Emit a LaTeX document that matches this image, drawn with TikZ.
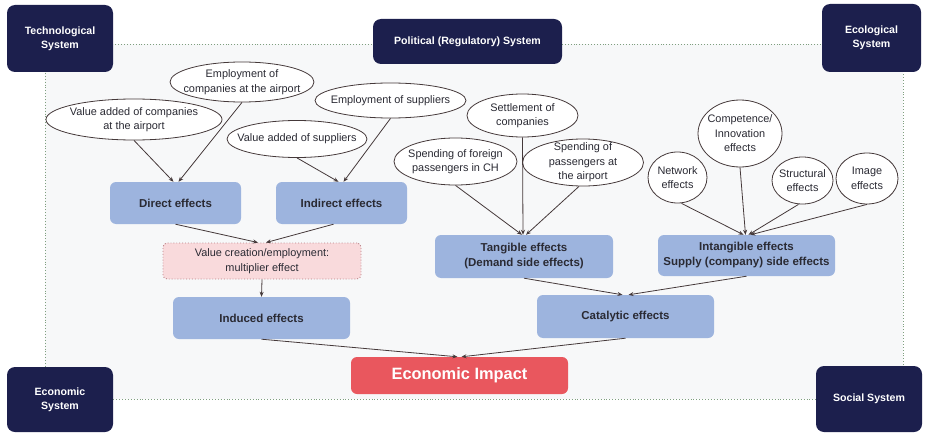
\documentclass[tikz,border=0pt]{standalone}
\usepackage{fontspec}
\setmainfont{Liberation Sans}
\usetikzlibrary{arrows.meta,shapes.geometric}
\definecolor{navy}{HTML}{1C1F4D}
\definecolor{boxblue}{HTML}{9DB4DE}
\definecolor{impred}{HTML}{E9575E}
\definecolor{pinkfill}{HTML}{F9DADC}
\definecolor{pinkline}{HTML}{B98086}
\definecolor{framebg}{HTML}{F7F8F9}
\definecolor{frameline}{HTML}{7F9F7F}
\definecolor{linec}{HTML}{45393A}
\definecolor{txt}{HTML}{2A2A33}
\begin{document}
\begin{tikzpicture}[x=1pt,y=-1pt,
  sysbox/.style={fill=navy, rounded corners=8pt, text=white, align=center, inner sep=0pt,
    font=\bfseries\fontsize{10.6}{14}\selectfont},
  ell/.style={ellipse, draw=linec, fill=white, line width=0.8pt, inner xsep=-14pt, inner ysep=-6pt, align=center,
    text=txt, font=\fontsize{10.9}{14.6}\selectfont},
  effbox/.style={rectangle, rounded corners=6pt, fill=boxblue, align=center, inner sep=0pt,
    text=txt, font=\bfseries\fontsize{11.5}{15}\selectfont, minimum height=42pt},
  arr/.style={draw=linec, line width=0.8pt, -{Stealth[length=5pt,width=4pt]}}
]
\useasboundingbox (0,0) rectangle (925,433);
% frame
\draw[fill=framebg, draw=frameline, dotted, line width=0.9pt] (45,44) rectangle (903,399);

% system boxes
\node[sysbox, minimum width=106pt, minimum height=67pt] (tech) at (60,38.5) {Technological\\System};
\node[sysbox, minimum width=189pt, minimum height=45pt] (pol) at (467.5,41.5) {Political (Regulatory) System};
\node[sysbox, minimum width=99pt, minimum height=68pt] (eco) at (871.5,38) {Ecological\\System};
\node[sysbox, minimum width=106pt, minimum height=65pt] (econ) at (60,399.5) {Economic\\System};
\node[sysbox, minimum width=106pt, minimum height=66pt] (soc) at (869,399) {Social System};

% ellipses
\node[ell, minimum width=144pt, minimum height=40pt] (emc) at (242,82) {Employment of\\companies at the airport};
\node[ell, minimum width=176pt, minimum height=41pt] (vac) at (134,119.5) {Value added of companies\\at the airport};
\node[ell, minimum width=140pt, minimum height=37pt] (vas) at (297,139) {Value added of suppliers};
\node[ell, minimum width=151pt, minimum height=35pt] (ems) at (390.5,100.5) {Employment of suppliers};
\node[ell, minimum width=111pt, minimum height=43pt] (set) at (522.5,115.5) {Settlement of\\companies};
\node[ell, minimum width=123pt, minimum height=47pt] (spf) at (455.5,161.5) {Spending of foreign\\passengers in CH};
\node[ell, minimum width=121pt, minimum height=47pt] (spa) at (583,162.5) {Spending of\\passengers at\\the airport};
\node[ell, minimum width=59pt, minimum height=51pt] (net) at (677.5,177.5) {Network\\effects};
\node[ell, minimum width=84pt, minimum height=67pt] (comp) at (740,133.5) {Competence/\\Innovation\\effects};
\node[ell, minimum width=61pt, minimum height=47pt] (str) at (802.5,180.5) {Structural\\effects};
\node[ell, minimum width=62pt, minimum height=51pt] (img) at (867,178.5) {Image\\effects};

% effect boxes
\node[effbox, minimum width=131pt] (direct) at (175.5,203) {Direct effects};
\node[effbox, minimum width=131pt] (indirect) at (341.5,203) {Indirect effects};
\node[rectangle, rounded corners=4pt, fill=pinkfill, draw=pinkline, dotted, line width=0.9pt,
  minimum width=198pt, minimum height=36pt, inner sep=0pt, align=center, text=txt,
  font=\fontsize{10.9}{14.6}\selectfont] (valcr) at (262,261) {Value creation/employment:\\multiplier effect};
\node[effbox, minimum width=177pt] (induced) at (261.5,318) {Induced effects};
\node[effbox, minimum width=178pt, minimum height=43pt] (tang) at (524,256.5) {Tangible effects\\(Demand side effects)};
\node[effbox, minimum width=177pt, minimum height=41pt] (intang) at (746.5,255.5) {Intangible effects\\Supply (company) side effects};
\node[effbox, minimum width=177pt, minimum height=43pt] (cat) at (625.5,316.5) {Catalytic effects};
\node[rectangle, rounded corners=6pt, fill=impred, text=white, inner sep=0pt,
  minimum width=217pt, minimum height=37pt, font=\bfseries\fontsize{16.4}{19}\selectfont]
  (impact) at (459.5,375.5) {Economic Impact};

% arrows
\draw[arr] (vac.south) -- ([xshift=-2pt]direct.north);
\draw[arr] (emc.south) -- ([xshift=3pt]direct.north);
\draw[arr] (vas.south) -- ([xshift=-3pt]indirect.north);
\draw[arr] (ems.south) -- ([xshift=2pt]indirect.north);
\draw[arr] (direct.south) -- ([xshift=-4pt]valcr.north);
\draw[arr] ([xshift=-8pt]indirect.south) -- ([xshift=4pt]valcr.north);
\draw[arr] (valcr.south) -- (induced.north);
\draw[arr] (induced.south) -- ([xshift=-2pt]impact.north);
\draw[arr] (cat.south) -- ([xshift=2pt]impact.north);
\draw[arr] (tang.south) -- ([xshift=-3pt]cat.north);
\draw[arr] (intang.south) -- ([xshift=3pt]cat.north);
\draw[arr] (spf.south) -- ([xshift=-2pt]tang.north);
\draw[arr] (set.south) -- ([xshift=-1pt]tang.north);
\draw[arr] ([xshift=-4pt]spa.south) -- ([xshift=2pt]tang.north);
\draw[arr] ([xshift=4pt]net.south) -- ([xshift=-3pt]intang.north);
\draw[arr] (comp.south) -- ([xshift=-1pt]intang.north);
\draw[arr] ([xshift=-4pt]str.south) -- ([xshift=2pt]intang.north);
\draw[arr] (img.south) -- ([xshift=4pt]intang.north);
\end{tikzpicture}
\end{document}
